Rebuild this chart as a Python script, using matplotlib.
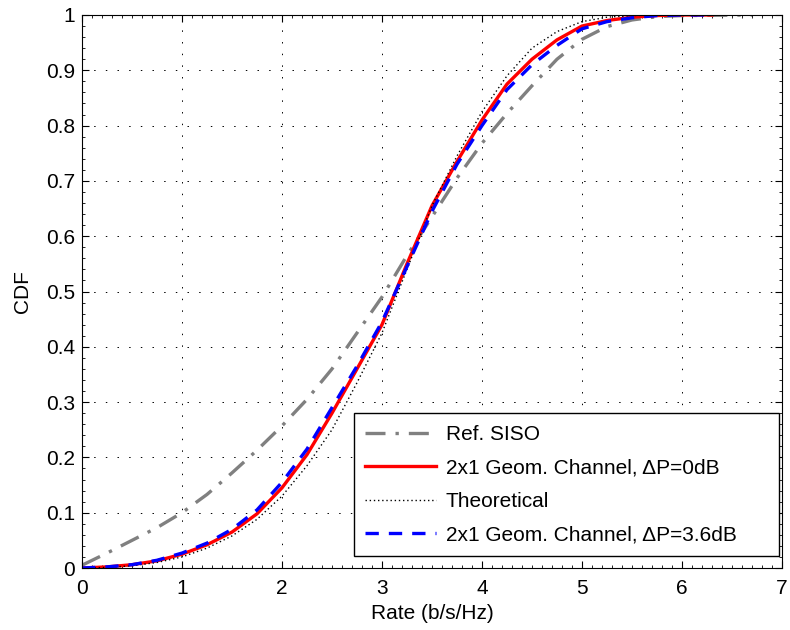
import numpy as np
import matplotlib
matplotlib.use("Agg")
import matplotlib.pyplot as plt
from matplotlib.ticker import MultipleLocator

plt.rcParams['font.family'] = ['Liberation Sans', 'DejaVu Sans']

# rate grid (b/s/Hz)
rate = [0, 0.25, 0.5, 0.75, 1, 1.25, 1.5, 1.75, 2, 2.25, 2.5, 2.75, 3, 3.25,
        3.5, 3.75, 4, 4.25, 4.5, 4.75, 5, 5.25, 5.5, 5.75, 6, 6.3]
cdf_geom_0db = [0, 0.002, 0.006, 0.013, 0.025, 0.042, 0.065, 0.098, 0.145, 0.205,
                0.28, 0.36, 0.44, 0.55, 0.655, 0.735, 0.81, 0.875, 0.92, 0.955,
                0.98, 0.99, 0.996, 0.999, 1.0, 1.0]
cdf_geom_36db = [0, 0.002, 0.006, 0.014, 0.027, 0.045, 0.07, 0.105, 0.155, 0.215,
                 0.29, 0.365, 0.445, 0.545, 0.645, 0.73, 0.80, 0.865, 0.91, 0.945,
                 0.975, 0.988, 0.995, 0.999, 1.0, 1.0]
cdf_theory = [0, 0.001, 0.004, 0.01, 0.02, 0.036, 0.058, 0.088, 0.13, 0.185,
              0.25, 0.335, 0.425, 0.54, 0.655, 0.745, 0.825, 0.89, 0.94, 0.97,
              0.988, 0.996, 0.999, 1.0, 1.0, 1.0]

rate_siso = [0, 0.25, 0.5, 0.75, 1, 1.25, 1.5, 1.75, 2, 2.25, 2.5, 2.75, 3, 3.25,
             3.5, 3.75, 4, 4.25, 4.5, 4.75, 5, 5.25, 5.5, 5.75, 6, 6.7]
cdf_siso = [0.005, 0.027, 0.05, 0.073, 0.1, 0.133, 0.172, 0.213, 0.257, 0.305,
            0.36, 0.425, 0.49, 0.565, 0.635, 0.705, 0.768, 0.822, 0.872, 0.92,
            0.956, 0.979, 0.991, 0.997, 0.999, 1.0]

fig = plt.figure(figsize=(7.9, 6.3), dpi=100)
ax = fig.add_axes([0.1038, 0.0984, 0.886, 0.8778])

ax.plot(rate_siso, cdf_siso, color='#808080', linestyle=(0, (6, 3, 1, 3)),
        linewidth=2.4, label='Ref. SISO')
ax.plot(rate, cdf_geom_0db, color='red', linestyle='-', linewidth=2.4,
        label=u'2x1 Geom. Channel, \u0394P=0dB')
ax.plot(rate, cdf_theory, color='black', linestyle=(0, (1, 2)), linewidth=1.0,
        label='Theoretical')
ax.plot(rate, cdf_geom_36db, color='blue', linestyle=(0, (4, 3)), linewidth=2.4,
        label=u'2x1 Geom. Channel, \u0394P=3.6dB')

ax.set_xlim(0, 7)
ax.set_ylim(0, 1)
ax.xaxis.set_major_locator(MultipleLocator(1))
ax.xaxis.set_minor_locator(MultipleLocator(0.1))
ax.yaxis.set_minor_locator(MultipleLocator(0.02))
ax.set_yticks(np.arange(0, 1.01, 0.1))
ax.set_yticklabels(['0'] + ['%.1f' % v for v in np.arange(0.1, 0.95, 0.1)] + ['1'])
ax.tick_params(which='both', direction='in', top=True, right=True, labelsize=15)
ax.tick_params(which='major', length=5)
ax.tick_params(which='minor', length=2.5)
ax.tick_params(axis='x', pad=8)
ax.tick_params(axis='y', pad=5)
ax.grid(True, which='major', color='black', linestyle=(0, (1.5, 10.5)), linewidth=0.7)
for s in ax.spines.values():
    s.set_linewidth(0.8)

ax.set_xlabel('Rate (b/s/Hz)', fontsize=15, labelpad=4)
ax.set_ylabel('CDF', fontsize=15, labelpad=10)

# matlab-style legend box, wider than its text
leg = ax.legend(loc='lower left', bbox_to_anchor=(0.3886, 0.0217, 0.607, 0.26),
                mode='expand', fontsize=15, fancybox=False, framealpha=1,
                edgecolor='black', handlelength=3.4, handletextpad=0.45,
                borderpad=0.55, labelspacing=0.7, borderaxespad=0)
leg.get_frame().set_linewidth(1.0)

fig.savefig('out.png', dpi=100)
